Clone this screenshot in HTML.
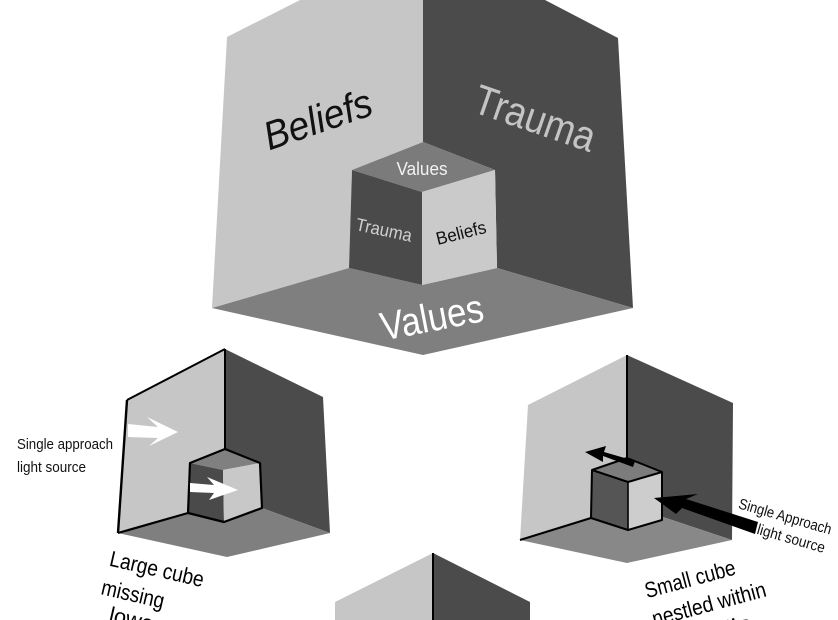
<!DOCTYPE html>
<html>
<head>
<meta charset="utf-8">
<style>
html,body{margin:0;padding:0;background:#fff;}
svg{display:block;}
text{font-family:"Liberation Sans",sans-serif;}
</style>
</head>
<body>
<svg width="838" height="620" viewBox="0 0 838 620" xmlns="http://www.w3.org/2000/svg">
<rect width="838" height="620" fill="#ffffff"/>

<!-- ===== TOP BIG CUBE ===== -->
<polygon points="227,37 300,0 423,0 423,142 352,170 349,268 212,308" fill="#c6c6c6"/>
<polygon points="423,0 545,0 618,38 633,308 497,268 495,170 423,142" fill="#4b4b4b"/>
<polygon points="212,308 349,268 422,285 497,268 633,308 423,355" fill="#7f7f7f"/>
<!-- small inner cube -->
<polygon points="423,142 495,170 422,192 352,170" fill="#7b7b7b"/>
<polygon points="352,170 422,192 422,285 349,268" fill="#4a4a4a"/>
<polygon points="422,192 495,170 497,268 422,285" fill="#cacaca"/>

<text x="0" y="0" transform="translate(318,120) rotate(-19)" font-size="40" font-style="italic" fill="#111" text-anchor="middle" dominant-baseline="central" textLength="112" lengthAdjust="spacingAndGlyphs">Beliefs</text>
<text x="0" y="0" transform="translate(535,118) rotate(19)" font-size="42" fill="#c4c4c4" text-anchor="middle" dominant-baseline="central" textLength="126" lengthAdjust="spacingAndGlyphs">Trauma</text>
<text x="0" y="0" transform="translate(432,318) rotate(-11)" font-size="40" fill="#ffffff" text-anchor="middle" dominant-baseline="central" textLength="104" lengthAdjust="spacingAndGlyphs">Values</text>

<text x="0" y="0" transform="translate(422,169)" font-size="18" fill="#f2f2f2" text-anchor="middle" dominant-baseline="central" textLength="51" lengthAdjust="spacingAndGlyphs">Values</text>
<text x="0" y="0" transform="translate(384,230) rotate(12)" font-size="18" fill="#cfcfcf" text-anchor="middle" dominant-baseline="central" textLength="57" lengthAdjust="spacingAndGlyphs">Trauma</text>
<text x="0" y="0" transform="translate(461,233) rotate(-14)" font-size="18" fill="#111" text-anchor="middle" dominant-baseline="central" textLength="51" lengthAdjust="spacingAndGlyphs">Beliefs</text>

<!-- ===== BOTTOM LEFT CUBE ===== -->
<polygon points="127,400 225,349 225,449 190,463 188,513 118,533" fill="#c6c6c6"/>
<polygon points="225,349 323,397 330,533 262,508 260,463 225,449" fill="#4b4b4b"/>
<polygon points="118,533 188,513 224,522 262,508 330,533 227,557" fill="#7f7f7f"/>
<polygon points="225,449 260,463 223,470 190,463" fill="#808080"/>
<polygon points="190,463 223,470 224,522 188,513" fill="#4a4a4a"/>
<polygon points="223,470 260,463 262,508 224,522" fill="#c8c8c8"/>
<g stroke="#000" fill="none" stroke-linejoin="round">
  <line x1="127" y1="400" x2="118" y2="533" stroke-width="2.4"/>
  <line x1="127" y1="400" x2="225" y2="349" stroke-width="2"/>
  <line x1="225" y1="349" x2="225" y2="449" stroke-width="2"/>
  <polyline points="225,449 190,463 188,513 118,533" stroke-width="2.2"/>
  <polyline points="225,449 260,463 262,508 224,522 188,513" stroke-width="2.2"/>
</g>
<!-- white arrows -->
<g fill="#ffffff">
  <polygon points="128,424 158,427 147,417 178,432 149,446 158,438 128,437"/>
  <polygon points="190,483 214,485 207,477 238,490 209,500 214,493 190,492"/>
</g>
<text x="17" y="449" font-size="15" fill="#111" textLength="96" lengthAdjust="spacingAndGlyphs">Single approach</text>
<text x="17" y="472" font-size="15" fill="#111" textLength="69" lengthAdjust="spacingAndGlyphs">light source</text>

<text x="0" y="0" transform="translate(157,569) rotate(13)" font-size="22" fill="#000" text-anchor="middle" dominant-baseline="central" textLength="96" lengthAdjust="spacingAndGlyphs">Large cube</text>
<text x="0" y="0" transform="translate(133,594) rotate(13)" font-size="22" fill="#000" text-anchor="middle" dominant-baseline="central" textLength="64" lengthAdjust="spacingAndGlyphs">missing</text>
<text x="0" y="0" transform="translate(135,620) rotate(13)" font-size="22" fill="#000" text-anchor="middle" dominant-baseline="central" textLength="52" lengthAdjust="spacingAndGlyphs">lower</text>

<!-- ===== BOTTOM RIGHT CUBE ===== -->
<polygon points="528,405 627,355 627,505 520,540" fill="#c6c6c6"/>
<polygon points="627,355 733,403 732,540 627,505" fill="#4b4b4b"/>
<polygon points="520,540 627,505 732,540 627,563" fill="#888888"/>
<polygon points="627,458 662,472 628,482 592,470" fill="#7c7c7c"/>
<polygon points="592,470 628,482 628,530 591,518" fill="#555555"/>
<polygon points="628,482 662,472 662,520 628,530" fill="#cdcdcd"/>
<g stroke="#000" fill="none" stroke-linejoin="round">
  <line x1="627" y1="355" x2="627" y2="458" stroke-width="2"/>
  <line x1="520" y1="540" x2="591" y2="518" stroke-width="2"/>
  <polygon points="627,458 662,472 628,482 592,470" stroke-width="2"/>
  <polyline points="592,470 591,518 628,530 662,520 662,472" stroke-width="2"/>
  <line x1="628" y1="482" x2="628" y2="530" stroke-width="1.6"/>
</g>
<!-- black arrows -->
<g fill="#000">
  <polygon points="635,461 604,452 606,446 585,452 603,462 603,456 633,467"/>
  <polygon points="758,522 686,499 698,494 654,498 676,514 682,508 755,534"/>
</g>
<text x="0" y="0" transform="translate(785,517) rotate(16)" font-size="15" fill="#111" text-anchor="middle" dominant-baseline="central" textLength="96" lengthAdjust="spacingAndGlyphs">Single Approach</text>
<text x="0" y="0" transform="translate(791,539) rotate(16)" font-size="15" fill="#111" text-anchor="middle" dominant-baseline="central" textLength="70" lengthAdjust="spacingAndGlyphs">light source</text>

<text x="0" y="0" transform="translate(690,579) rotate(-15)" font-size="22" fill="#000" text-anchor="middle" dominant-baseline="central" textLength="93" lengthAdjust="spacingAndGlyphs">Small cube</text>
<text x="0" y="0" transform="translate(709,604) rotate(-15)" font-size="22" fill="#000" text-anchor="middle" dominant-baseline="central" textLength="117" lengthAdjust="spacingAndGlyphs">nestled within</text>
<text x="0" y="0" transform="translate(722,630) rotate(-15)" font-size="22" fill="#000" text-anchor="middle" dominant-baseline="central" textLength="60" lengthAdjust="spacingAndGlyphs">walls</text>

<!-- ===== BOTTOM CENTER CUBE ===== -->
<polygon points="433,553 433,620 335,620 335,602" fill="#c6c6c6"/>
<polygon points="433,553 530,602 530,620 433,620" fill="#4b4b4b"/>
<line x1="433" y1="553" x2="433" y2="620" stroke="#000" stroke-width="2"/>
</svg>
</body>
</html>
